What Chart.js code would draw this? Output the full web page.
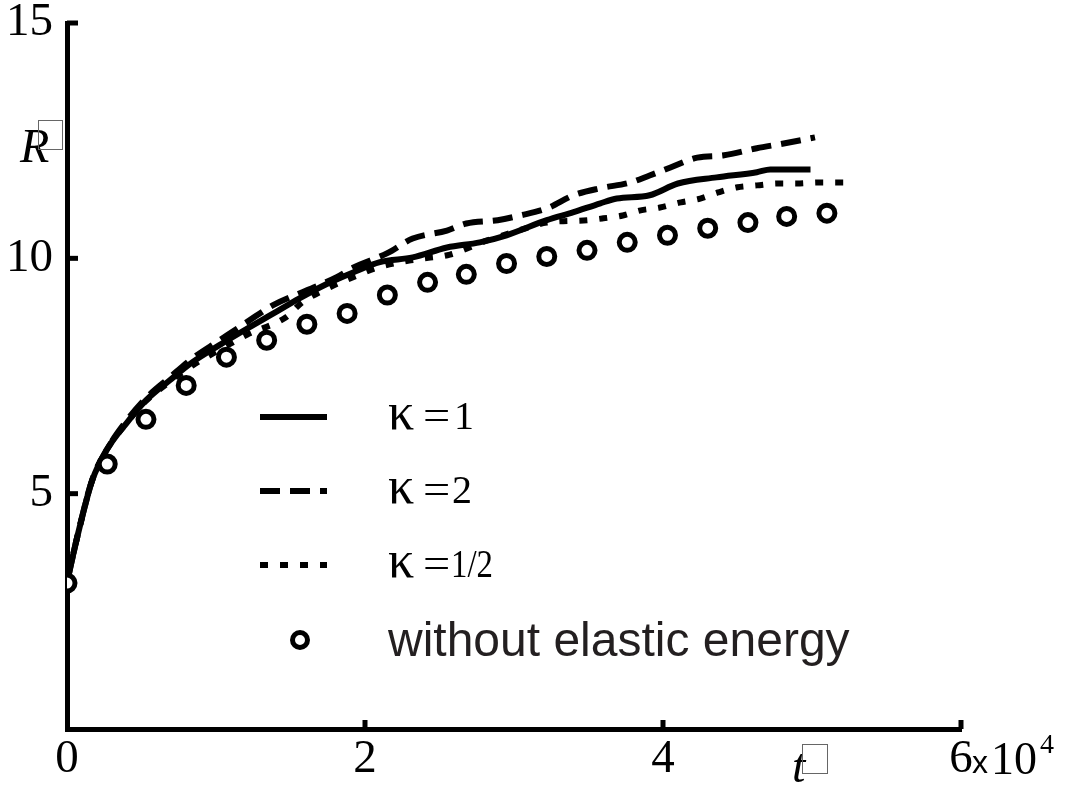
<!DOCTYPE html>
<html>
<head>
<meta charset="utf-8">
<script src="https://cdn.jsdelivr.net/npm/chart.js@4"></script>
<style>
  html, body { margin: 0; padding: 0; background: #fff; }
  #wrap { width: 1065px; height: 788px; }
</style>
</head>
<body>
<div id="wrap"><canvas id="myChart" width="1065" height="788"></canvas></div>
<script>
// t in units of 10^4, R values
const tK1 = [0, 0.02, 0.085, 0.17, 0.265, 0.4, 0.53, 0.69, 0.84, 1.02, 1.21, 1.38, 1.56, 1.74, 1.92, 2.1, 2.32, 2.55, 2.77, 2.95, 3.22, 3.4, 3.58, 3.69, 3.91, 4.1, 4.36, 4.63, 4.72, 4.99];
const rK1 = [3.1, 3.4, 4.29, 5.29, 5.92, 6.5, 6.98, 7.41, 7.79, 8.15, 8.51, 8.82, 9.15, 9.45, 9.7, 9.92, 10.02, 10.23, 10.34, 10.49, 10.81, 10.98, 11.17, 11.27, 11.34, 11.59, 11.72, 11.83, 11.89, 11.89];

const tK2 = [0, 0.02, 0.085, 0.17, 0.27, 0.4, 0.53, 0.69, 0.84, 1.02, 1.21, 1.38, 1.61, 1.81, 1.92, 2.15, 2.32, 2.55, 2.68, 2.89, 3.04, 3.22, 3.4, 3.58, 3.78, 3.91, 4.05, 4.23, 4.41, 4.63, 4.81, 5.02];
const rK2 = [3.1, 3.4, 4.3, 5.3, 5.95, 6.55, 7.03, 7.47, 7.87, 8.25, 8.65, 9.0, 9.32, 9.6, 9.8, 10.11, 10.42, 10.59, 10.74, 10.81, 10.91, 11.06, 11.34, 11.49, 11.61, 11.76, 11.93, 12.14, 12.19, 12.34, 12.44, 12.57];

const tK3 = [0, 0.02, 0.085, 0.17, 0.265, 0.4, 0.53, 0.69, 0.84, 1.02, 1.21, 1.47, 1.58, 1.74, 1.92, 2.1, 2.35, 2.57, 2.82, 3.02, 3.22, 3.49, 3.6, 3.73, 3.85, 3.98, 4.12, 4.25, 4.37, 4.5, 4.63, 4.77, 4.9, 5.04, 5.21];
const rK3 = [3.1, 3.4, 4.29, 5.29, 5.92, 6.5, 6.97, 7.38, 7.72, 8.05, 8.38, 8.75, 9.07, 9.35, 9.6, 9.82, 9.98, 10.08, 10.38, 10.58, 10.76, 10.81, 10.85, 10.91, 11.02, 11.08, 11.19, 11.27, 11.4, 11.51, 11.55, 11.59, 11.59, 11.61, 11.61];

const tNoEl = [0, 0.27, 0.53, 0.8, 1.07, 1.34, 1.61, 1.88, 2.15, 2.42, 2.68, 2.95, 3.22, 3.49, 3.76, 4.03, 4.3, 4.57, 4.83, 5.1];
const rNoEl = [3.1, 5.63, 6.58, 7.3, 7.9, 8.26, 8.6, 8.83, 9.22, 9.49, 9.66, 9.89, 10.04, 10.17, 10.34, 10.49, 10.64, 10.76, 10.89, 10.96];

const xTicks = [0, 2, 4, 6];
const yTicks = [5, 10, 15];

const pts = (xs, ys) => xs.map((x, i) => ({ x: x, y: ys[i] }));
const ink = '#000';
const serif = "'Liberation Serif', 'Times New Roman', serif";
const sans = "'Liberation Sans', Arial, sans-serif";

// inward tick marks, legend and axis titles
const decor = {
    id: 'decor',
    afterDraw(chart) {
        const c = chart.ctx;
        const xs = chart.scales.x, ys = chart.scales.y;
        const a = chart.chartArea;
        c.save();
        c.strokeStyle = ink;
        c.lineWidth = 5;
        c.lineCap = 'butt';
        yTicks.forEach(v => {
            const p = ys.getPixelForValue(v);
            c.beginPath(); c.moveTo(a.left, p); c.lineTo(a.left + 11, p); c.stroke();
        });
        xTicks.slice(1).forEach(v => {
            const p = xs.getPixelForValue(v);
            c.beginPath(); c.moveTo(p, a.bottom); c.lineTo(p, a.bottom - 9); c.stroke();
        });

        // x10^4 after the last tick label
        c.fillStyle = ink;
        c.textBaseline = 'alphabetic';
        c.textAlign = 'left';
        c.font = '32px ' + sans;
        c.fillText('x', 972, 773);
        c.font = '46px ' + serif;
        c.fillText('10', 991, 774);
        c.font = '28px ' + serif;
        c.fillText('4', 1040, 753);

        // axis titles with the missing-glyph box
        c.font = 'italic 48px ' + serif;
        c.fillText('R', 20, 162);
        c.fillText('t', 792, 782);
        c.lineWidth = 1;
        c.strokeStyle = '#666';
        c.strokeRect(38.5, 120.5, 24, 29);
        c.strokeRect(802.5, 744.5, 25, 29);

        // legend
        const rows = [
            { y: 417, dash: [], val: '1', vx: 454, sx: 1 },
            { y: 491, dash: [20, 10], val: '2', vx: 452, sx: 1 },
            { y: 565, dash: [8, 12], val: '1/2', vx: 451, sx: 0.82 }
        ];
        c.strokeStyle = ink;
        rows.forEach(r => {
            c.lineWidth = 6;
            c.setLineDash(r.dash);
            c.beginPath(); c.moveTo(260, r.y); c.lineTo(327, r.y); c.stroke();
            c.setLineDash([]);
            const base = r.y + 12;
            c.font = '52px ' + serif;
            c.fillText('\u03ba', 388, base);
            c.font = '42px ' + serif;
            c.save();
            c.translate(423, base); c.scale(1.15, 1);
            c.fillText('=', 0, 0);
            c.restore();
            c.font = '40px ' + serif;
            c.save();
            c.translate(r.vx, base); c.scale(r.sx, 1);
            c.fillText(r.val, 0, 0);
            c.restore();
        });
        c.lineWidth = 5;
        c.fillStyle = '#fff';
        c.beginPath(); c.arc(300, 640, 7.5, 0, Math.PI * 2); c.fill(); c.stroke();
        c.fillStyle = '#231f20';
        c.font = '48px ' + sans;
        c.fillText('without elastic energy', 388, 656);
        c.restore();
    }
};

const data = {
    datasets: [{
        label: 'without elastic energy',
        data: pts(tNoEl, rNoEl),
        showLine: false,
        pointRadius: 8,
        pointBorderWidth: 5,
        pointBorderColor: ink,
        pointBackgroundColor: '#fff'
    }, {
        label: '\u03ba =1',
        data: pts(tK1, rK1),
        borderColor: ink,
        borderWidth: 6,
        pointRadius: 0,
        cubicInterpolationMode: 'monotone'
    }, {
        label: '\u03ba =2',
        data: pts(tK2, rK2),
        borderColor: ink,
        borderWidth: 6,
        borderDash: [20, 10],
        pointRadius: 0,
        cubicInterpolationMode: 'monotone'
    }, {
        label: '\u03ba =1/2',
        data: pts(tK3, rK3),
        borderColor: ink,
        borderWidth: 6,
        borderDash: [8, 12],
        pointRadius: 0,
        cubicInterpolationMode: 'monotone'
    }]
};

const config = {
    type: 'line',
    data: data,
    options: {
        responsive: false,
        animation: false,
        layout: { padding: { top: 23, right: 104, left: 0, bottom: 0 } },
        plugins: { legend: { display: false }, tooltip: { enabled: false } },
        scales: {
            x: {
                type: 'linear',
                min: 0, max: 6,
                grid: { display: false, drawTicks: false },
                border: { display: true, width: 5, color: ink },
                ticks: {
                    stepSize: 2, padding: 2, color: ink,
                    maxRotation: 0, autoSkip: false,
                    font: { family: serif, size: 47 }
                },
                afterFit: s => { s.height = 59; s.paddingLeft = 0; s.paddingRight = 0; }
            },
            y: {
                min: 0, max: 15,
                grid: { display: false, drawTicks: false },
                border: { display: true, width: 5, color: ink },
                ticks: {
                    stepSize: 5, padding: 14, color: ink,
                    font: { family: serif, size: 47 },
                    callback: v => (v === 0 ? '' : v)
                },
                afterFit: s => { s.width = 67; s.paddingTop = 0; s.paddingBottom = 0; }
            }
        }
    },
    plugins: [decor]
};

const myChart = new Chart(document.getElementById('myChart').getContext('2d'), config);
</script>
</body>
</html>
